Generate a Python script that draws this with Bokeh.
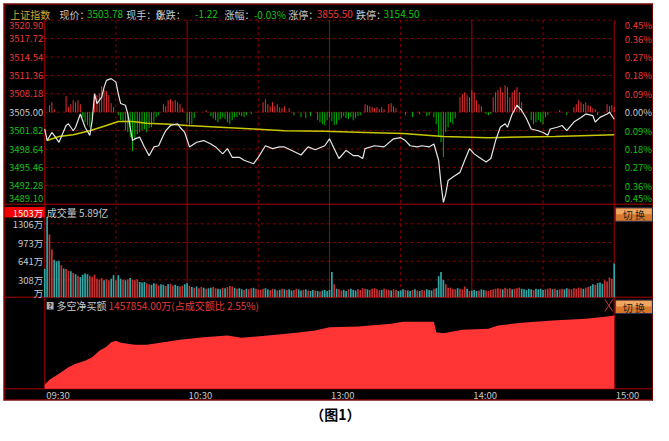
from bokeh.plotting import figure
from bokeh.models import Range1d
from bokeh.core.properties import value
from bokeh.embed import file_html
from bokeh.resources import INLINE

FONT = "Noto Sans CJK SC"

# ---------------- data ----------------
prev_close = 3505.00
price_ticks = [3520.90, 3517.72, 3514.54, 3511.36, 3508.18, 3505.00,
               3501.82, 3498.64, 3495.46, 3492.28, 3489.10]
price_tick_labels = ["3520.90", "3517.72", "3514.54", "3511.36", "3508.18", "3505.00",
                     "3501.82", "3498.64", "3495.46", "3492.28", "3489.10"]
pct_labels = ["0.45%", "0.36%", "0.27%", "0.18%", "0.09%", "0.00%",
              "0.09%", "0.18%", "0.27%", "0.36%", "0.45%"]
vol_ticks = [1306, 973, 641, 308, 0]
vol_tick_labels = ["1306万", "973万", "641万", "308万", "万"]
vol_top = 1503
vol_top_label = "1503万"
time_ticks = [0, 60, 120, 180, 240]
time_labels = ["09:30", "10:30", "13:00", "14:00", "15:00"]

# minute index (0 = 09:30, 120 = 13:00, 240 = 15:00) and index value
price_min = [0, 1, 3, 4, 6, 9, 10, 12, 13, 15, 17, 19, 20, 21, 22, 24, 25, 26, 28, 30,
             31, 32, 34, 35, 36, 37, 38, 40, 42, 44, 46, 48, 50, 51, 53, 56, 57, 59, 61, 64,
             67, 70, 72, 75, 77, 79, 82, 84, 88, 90, 93, 96, 99, 101, 105, 108, 111, 114, 118, 120,
             122, 124, 127, 130, 132, 134, 135, 139, 143, 147, 150, 152, 154, 157, 159, 162, 164, 166, 167, 168,
             169, 170, 172, 175, 177, 179, 181, 183, 186, 188, 190, 192, 194, 195, 197, 199, 201, 203, 205, 208,
             210, 212, 213, 216, 218, 220, 223, 226, 228, 231, 232, 234, 237, 238, 240]
price_val = [3502.1, 3500.1, 3501.5, 3501.0, 3499.8, 3502.7, 3503.0, 3501.8, 3502.4, 3504.7,
             3502.4, 3501.0, 3503.6, 3508.2, 3506.5, 3507.6, 3509.3, 3510.5, 3510.8, 3510.2,
             3508.2, 3506.5, 3506.2, 3504.7, 3502.4, 3500.1, 3500.4, 3500.7, 3499.0, 3497.5,
             3499.0, 3499.2, 3501.0, 3501.8, 3502.7, 3503.0, 3502.4, 3501.5, 3499.0, 3499.8,
             3500.1, 3499.5, 3499.0, 3497.8, 3498.7, 3497.2, 3497.2, 3496.7, 3496.1, 3497.2,
             3499.2, 3498.7, 3499.0, 3499.0, 3498.2, 3497.6, 3499.0, 3498.5, 3499.2, 3500.4,
             3498.7, 3497.0, 3498.4, 3497.5, 3497.5, 3497.0, 3498.7, 3499.2, 3499.0, 3500.4,
             3500.6, 3500.1, 3499.2, 3499.0, 3499.2, 3499.0, 3499.5, 3496.7, 3492.6, 3489.4,
             3490.9, 3493.2, 3493.8, 3494.6, 3496.7, 3498.7, 3497.8, 3497.2, 3496.4, 3497.0,
             3500.1, 3502.4, 3503.0, 3502.4, 3504.7, 3506.2, 3505.3, 3503.9, 3502.1, 3501.8,
             3501.5, 3501.0, 3502.1, 3502.4, 3502.7, 3501.8, 3503.3, 3504.1, 3504.7, 3504.4,
             3503.3, 3504.1, 3504.7, 3505.0, 3503.78]

avg_min = [1, 6, 12, 19, 26, 31, 37, 43, 53, 60, 74, 88, 101, 118, 135, 151, 168, 187, 201, 215, 240]
avg_val = [3500.1, 3500.8, 3501.1, 3501.8, 3502.7, 3503.4, 3503.4, 3503.1, 3502.9, 3502.7,
           3502.4, 3502.1, 3501.8, 3501.7, 3501.5, 3501.3, 3500.8, 3500.6, 3500.7, 3500.8, 3501.1]

# lead indicator bars (red above / green below the prev-close line)
signal_min = [2, 3, 4, 9, 10, 11, 12, 13, 14, 15,
              16, 17, 18, 19, 20,
              21, 22, 23, 24, 25, 26, 27, 28, 29,
              31, 32, 33, 34, 35, 36, 37, 38, 39, 40, 41, 42, 43, 44, 45, 46, 47, 48,
              50, 51, 52, 53, 54, 55, 56, 57, 58,
              60, 61, 62, 63, 68,
              70, 71, 72, 73, 74, 75, 76, 77, 78, 79, 80, 81, 82, 83, 84, 85, 87,
              92, 93, 94, 95, 96, 97, 98, 99, 100, 101,
              103, 105, 108, 110, 112, 115, 116, 117,
              118, 119, 120, 121, 122, 123, 124, 125, 126, 127, 128, 129, 130, 131, 132, 133,
              135, 136, 137, 138, 139, 140, 141, 142, 143, 145, 146, 147, 148,
              152, 155, 158, 161, 162,
              164, 165, 166, 167, 168, 169, 170, 171, 172, 173,
              175, 176, 177, 178, 179, 180, 181, 182, 183, 184,
              186, 187, 188,
              189, 190, 191, 192, 193, 194, 195, 196, 197, 198, 199, 200, 201,
              205, 206, 207, 208, 209, 210, 211, 212,
              217, 220,
              223, 224, 225, 226, 227, 228, 229, 230, 231, 232, 233,
              237, 238, 239, 240]
signal_val = [7, 10, 3, 16, 5, 8, 12, 10, 12, 8,
              -5, -10, -13, -15, -5,
              15, 17, 19, 26, 22, 21, 17, 9, 5,
              -3, -8, -10, -18, -20, -25, -39, -28, -22, -20, -18, -17, -20, -16, -15, -10, -5, -3,
              8, 6, 12, 13, 11, 12, 10, 8, 4,
              -10, -13, -12, -6, 2,
              -4, -6, -8, -10, -7, -5, -7, -10, -12, -8, -5, -5, -3, -4, -5, -3, -2,
              10, 13, 8, 6, 10, 6, 8, 5, 4, 6,
              4, -3, -5, -6, -4, -8, -10, -12,
              -13, -8, -5, -9, -13, -12, -8, -6, -4, -6, -7, -5, -8, -6, -4, -3,
              8, 7, 6, 5, 4, 5, 3, 5, 3, 8, 9, 6, 4,
              -3, -5, -2, -4, -3,
              -5, -12, -25, -30, -45, -20, -15, -10, -12, -6,
              15, 18, 20, 17, 15, 22, 20, 12, 8, 6,
              -2, -3, -2,
              15, 20, 22, 25, 20, 27, 25, 15, 20, 22, 25, 20, 10,
              -8, -12, -10, -8, -10, -12, -5, -3,
              2, -3,
              5, 8, 12, 10, 8, 10, 7, 6, 4, 3, -3,
              8, 6, 7, 5]

# per-minute volume (万) and direction (u = red, d = teal)
volume_wan = [
    505, 1430, 1117, 847, 667, 640, 650, 570, 510, 500,
    470, 460, 430, 410, 380, 360, 400, 420, 410, 380,
    360, 400, 330, 310, 340, 300, 320, 300, 330, 390,
    300, 390, 330, 310, 300, 320, 340, 310, 300, 320,
    270, 260, 270, 250, 230, 220, 250, 240, 210, 230,
    220, 200, 230, 240, 210, 220, 200, 190, 210, 230,
    250, 200, 180, 170, 190, 160, 180, 170, 150, 160,
    170, 180, 160, 150, 140, 170, 160, 180, 200, 190,
    170, 150, 160, 140, 130, 150, 140, 160, 170, 150,
    140, 130, 150, 160, 140, 130, 150, 140, 120, 130,
    150, 140, 130, 140, 120, 130, 150, 140, 120, 130,
    140, 120, 110, 130, 120, 110, 100, 120, 130, 110,
    130, 450, 230, 150, 140, 120, 130, 110, 140, 150,
    130, 120, 140, 130, 160, 150, 140, 130, 150, 160,
    140, 120, 130, 150, 140, 130, 120, 140, 130, 110,
    120, 140, 130, 120, 110, 130, 140, 120, 110, 130,
    120, 140, 130, 120, 150, 160, 375, 450, 310, 230,
    170, 170, 150, 140, 160, 150, 140, 190, 150, 110,
    120, 130, 110, 120, 140, 130, 120, 110, 130, 140,
    150, 160, 150, 140, 170, 150, 160, 140, 150, 160,
    170, 150, 140, 130, 150, 140, 130, 150, 140, 150,
    130, 140, 150, 160, 140, 150, 130, 140, 150, 140,
    160, 150, 140, 160, 150, 170, 160, 150, 170, 180,
    200, 230, 220, 250, 260, 240, 300, 280, 350, 330,
    600]
volume_dir = (
    "d d u u d d d u d u "
    "u d u d u d d d d u "
    "u u u u u d u u d d "
    "u d d u d u d u u u "
    "d d d u u d d u u d "
    "d u d u u d d u u d "
    "d u d u d u u d u d "
    "d u u d d u d u u u "
    "d u d d u d u u d u "
    "u u u d d u u d u d "
    "u d u d d u u d d u "
    "d u d d u d u d d d "
    "d d u d u u d d u d "
    "d d u u u u d u u u "
    "u u d u u u d u u d "
    "d d u d d u d u d u "
    "u d d d u d d d d u "
    "u u u u d u u u d u "
    "d d d u d d u u u u "
    "u u u d u u u d u u "
    "u d d d d d u d d d "
    "d u u u d u d u u d "
    "d u u u u u u d u u "
    "d d u d d d u u u u "
    "d").split()

# net buy amount (万)
netbuy_min = [0, 2, 6, 10, 13, 17, 20, 23, 26, 28, 30, 32, 38, 43, 50, 57, 67, 77, 83, 94,
              106, 114, 120, 132, 146, 151, 164, 165, 168, 176, 187, 191, 201, 214, 228, 237, 240]
netbuy_wan = [79600, 179000, 298300, 429600, 497200, 556900, 628500, 755800, 835300, 926800,
              954700, 914900, 875100, 875100, 926800, 974600, 1026300, 1060100, 1014300, 1060100,
              1113800, 1159500, 1225200, 1239100, 1292800, 1332600, 1332600, 1125700, 1105800, 1173500,
              1193300, 1259000, 1312700, 1358400, 1392200, 1438000, 1457854]

# ---------------- layout (reference pixel grid) ----------------
W, H = 653, 425
L, R, T, B = 3, 665, 3, 400          # black panel in reference pixels
SX = (R - L) / (W - L)                # horizontal squeeze so the panel fits the canvas
X0, X1 = 45, 625                      # minute 0 .. minute 240
Y_HEAD = 19.7
Y_PV = 203.7                          # price / volume border
Y_VN = 296.7                          # volume / netbuy border
Y_NT = 388.3                          # netbuy / time axis border

PX_LEFT = L - L * SX                  # reference x at canvas x = 0
PX_RIGHT = R                          # reference x at canvas x = W


def minute_at(x):
    return (x - X0) * 240.0 / (X1 - X0)


def lin_range(v1, y1, v2, y2):
    f = lambda y: v1 + (y - y1) * (v2 - v1) / (y2 - y1)
    return Range1d(start=f(H), end=f(0))


p = figure(width=W, height=H, output_backend="svg", toolbar_location=None,
           x_range=Range1d(minute_at(PX_LEFT), minute_at(PX_RIGHT)), y_range=Range1d(H, 0),
           x_axis_location=None, y_axis_location=None, min_border=0,
           background_fill_color="white", border_fill_color="white", outline_line_color=None)
p.grid.visible = False
p.extra_x_ranges = {"px": Range1d(PX_LEFT, PX_RIGHT)}
p.extra_y_ranges = {
    "price": lin_range(price_ticks[0], Y_HEAD, price_ticks[-1], Y_PV),
    "sig": lin_range(0, 111.7, 10, 101.7),
    "vol": lin_range(0, Y_VN, vol_ticks[0], 223.3),
    "nb": lin_range(0, Y_NT, netbuy_wan[-1], 315.0),
}

SOLID = "#a80000"
DASH = "#8c0000"
WHITE = "#c8c8c8"
RED = "#e83838"
GREEN = "#18c018"

# black chart panel
p.quad(left=[L], right=[R], top=[T], bottom=[B], x_range_name="px",
       fill_color="black", line_color=None)

# dashed horizontal grid: price and volume
p.segment(x0=[0] * 10, x1=[240] * 10, y0=price_ticks[:10], y1=price_ticks[:10],
          y_range_name="price", line_color=DASH, line_dash="3 3", line_width=1)
p.segment(x0=[0] * 4, x1=[240] * 4, y0=vol_ticks[:4], y1=vol_ticks[:4],
          y_range_name="vol", line_color=DASH, line_dash="3 3", line_width=1)
# vertical grid (half hours dashed, hours solid)
p.segment(x0=[30, 90, 150, 210], x1=[30, 90, 150, 210], y0=[Y_HEAD] * 4, y1=[Y_VN] * 4,
          line_color=DASH, line_dash="3 3", line_width=1)
p.segment(x0=[60, 120, 180], x1=[60, 120, 180], y0=[Y_HEAD] * 3, y1=[Y_VN] * 3,
          line_color=SOLID, line_width=1)
p.segment(x0=[0, 240], x1=[0, 240], y0=[Y_HEAD, Y_HEAD], y1=[Y_NT, Y_NT],
          line_color=SOLID, line_width=1)
# panel borders
p.segment(x0=[L, L, L, L, L, R - 0.7, L + 0.7], x1=[R, R, R, R, R, R - 0.7, L + 0.7],
          y0=[T + 0.6, Y_PV, Y_VN, Y_NT, B - 0.6, T, T],
          y1=[T + 0.6, Y_PV, Y_VN, Y_NT, B - 0.6, B, B],
          x_range_name="px", line_color=SOLID, line_width=1)

# lead indicator bars
sig_colors = ["#e83030" if v > 0 else "#00b400" for v in signal_val]
p.segment(x0=signal_min, x1=signal_min, y0=[0] * len(signal_min), y1=signal_val,
          y_range_name="sig", line_color=sig_colors, line_width=1)

# average and price lines
p.line(avg_min, avg_val, y_range_name="price", line_color="#c8c800", line_width=1.5)
p.line(price_min, price_val, y_range_name="price", line_color="#e6e6e6", line_width=1.2)

# volume bars
vol_x = list(range(len(volume_wan)))
vol_colors = ["#c83232" if volume_dir[i % len(volume_dir)] == "u" else "#30a8a8"
              for i in range(len(volume_wan))]
p.vbar(x=vol_x, width=0.7, top=volume_wan, bottom=0, y_range_name="vol",
       fill_color=vol_colors, line_color=None)

# net buy area
p.varea(x=netbuy_min, y1=[0] * len(netbuy_min), y2=netbuy_wan, y_range_name="nb",
        fill_color="#ff3535")

# ---------------- texts ----------------
price_colors = [RED if t > prev_close else (WHITE if t == prev_close else GREEN) for t in price_ticks]
offsets = [5] + [0] * 9 + [-6]
p.text(x=[43.5] * 11, y=price_ticks, text=price_tick_labels, x_range_name="px", y_range_name="price",
       text_color=price_colors, text_font=value(FONT), text_font_size="9.5px",
       text_align="right", text_baseline="middle", y_offset=offsets)
p.text(x=[663.5] * 11, y=price_ticks, text=pct_labels, x_range_name="px", y_range_name="price",
       text_color=price_colors, text_font=value(FONT), text_font_size="9.5px",
       text_align="right", text_baseline="middle", y_offset=offsets)

# volume axis labels
p.quad(left=[4], right=[45], top=[206.5], bottom=[217], x_range_name="px",
       fill_color="#f00000", line_color=None)
p.text(x=[43.5], y=[vol_top], text=[vol_top_label], x_range_name="px", y_range_name="vol",
       text_color="#f0f0f0", text_font=value(FONT), text_font_size="9.5px",
       text_align="right", text_baseline="middle")
p.text(x=[43.5] * 5, y=vol_ticks, text=vol_tick_labels, x_range_name="px", y_range_name="vol",
       text_color=WHITE, text_font=value(FONT), text_font_size="9.5px",
       text_align="right", text_baseline="middle", y_offset=[0, 0, 0, 0, -4])
p.text(x=[47], y=[212], text=["成交量 5.89亿"], x_range_name="px",
       text_color=WHITE, text_font=value(FONT), text_font_size="10px", text_baseline="middle")

# header
head_x = [10, 60, 88, 128, 158, 198, 228, 258, 293, 322, 362, 390]
head_t = ["上证指数", "现价：", "3503.78", "现手：0", "涨跌：", "-1.22", "涨幅：", "-0.03%",
          "涨停：", "3855.50", "跌停：", "3154.50"]
head_c = ["#d8a830", WHITE, GREEN, WHITE, WHITE, GREEN, WHITE, GREEN, WHITE, RED, WHITE, GREEN]
p.text(x=head_x, y=[13.5] * len(head_x), text=head_t, x_range_name="px",
       text_color=head_c, text_font=value(FONT), text_font_size="10px", text_baseline="middle")

# net buy header
p.quad(left=[47], right=[54], top=[301.5], bottom=[309], x_range_name="px",
       fill_color="#b0b0b0", line_color=None)
p.text(x=[50.5], y=[305.5], text=["?"], x_range_name="px", text_color="black",
       text_font=value(FONT), text_font_size="7px", text_font_style="bold",
       text_align="center", text_baseline="middle")
p.text(x=[57, 110], y=[305, 305], text=["多空净买额", "1457854.00万(占成交额比 2.55%)"],
       x_range_name="px", text_color=[WHITE, RED], text_font=value(FONT),
       text_font_size="10px", text_baseline="middle")

# close mark
p.segment(x0=[615.5, 615.5], x1=[623.5, 623.5], y0=[299, 311], y1=[311, 299],
          x_range_name="px", line_color="#d03030", line_width=1)

# switch buttons
for yt in (207.3, 299.5):
    p.quad(left=[626], right=[664], top=[yt], bottom=[yt + 13.5], x_range_name="px",
           fill_color="#d8782c", line_color="#303050", line_width=1)
    p.quad(left=[627], right=[663], top=[yt + 1], bottom=[yt + 6.5], x_range_name="px",
           fill_color="#f0a860", line_color=None)
    p.text(x=[645], y=[yt + 7], text=["切 换"], x_range_name="px", text_color="#202020",
           text_font=value(FONT), text_font_size="10px", text_align="center", text_baseline="middle")

# time axis labels
p.text(x=[t + 0.6 for t in time_ticks], y=[394] * 5, text=time_labels,
       text_color=WHITE, text_font=value(FONT), text_font_size="9.5px", text_baseline="middle")

# caption under the chart
p.text(x=[341], y=[413], text=["（图1）"], x_range_name="px", text_color="black",
       text_font=value(FONT), text_font_size="14px", text_font_style="bold",
       text_align="center", text_baseline="middle")

open("out.html", "w").write(file_html(p, INLINE))
